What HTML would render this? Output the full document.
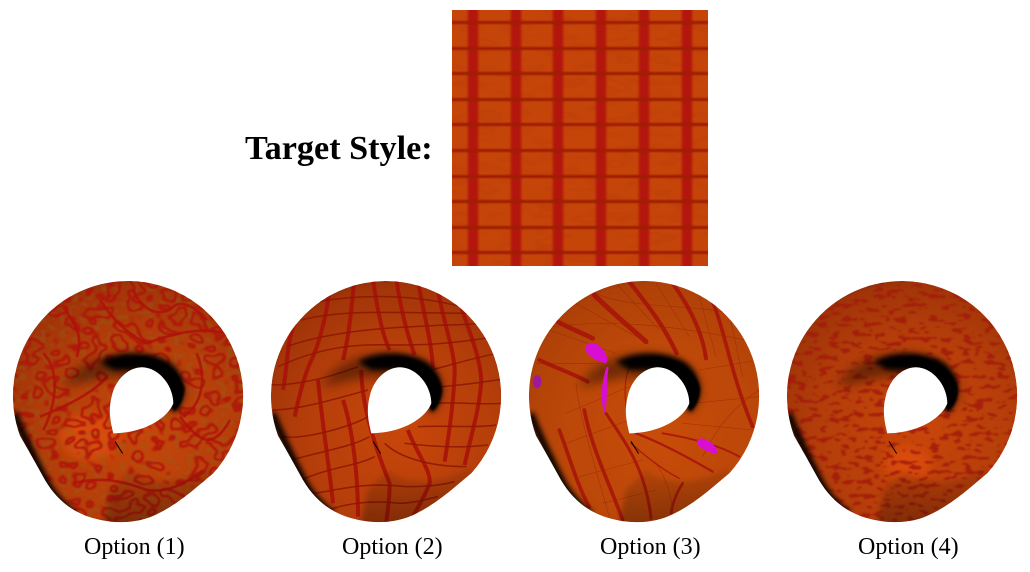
<!DOCTYPE html>
<html lang="en">
<head>
<meta charset="utf-8">
<title>Target Style Options</title>
<style>
html,body{margin:0;padding:0;background:#fff;width:1030px;height:572px;overflow:hidden}
svg{display:block}
text{font-family:"Liberation Serif",serif;fill:#000}
</style>
</head>
<body>
<svg xmlns="http://www.w3.org/2000/svg" width="1030" height="572" viewBox="0 0 1030 572">
<defs>
  <path id="sil" d="M384,33 A345,345 0 0 1 640,610 C600,642 530,710 450,742 C400,760 340,762 280,745 C220,728 170,690 135,630 C110,585 85,540 60,497 A345,345 0 0 1 384,33 Z"/>
  <clipPath id="silClip"><use href="#sil"/></clipPath>
  <clipPath id="texClip"><rect x="452" y="10" width="256" height="256"/></clipPath>
  <filter id="b1" x="-30%" y="-20%" width="160%" height="140%"><feGaussianBlur stdDeviation="1.1"/></filter>
  <filter id="b2" x="-5%" y="-100%" width="110%" height="300%"><feGaussianBlur stdDeviation="0.7"/></filter>
  <filter id="blur3" filterUnits="userSpaceOnUse" x="-50" y="-50" width="880" height="880"><feGaussianBlur stdDeviation="3"/></filter>
  <filter id="blur8" filterUnits="userSpaceOnUse" x="-50" y="-50" width="880" height="880"><feGaussianBlur stdDeviation="8"/></filter>
  <filter id="blur16" filterUnits="userSpaceOnUse" x="-50" y="-50" width="880" height="880"><feGaussianBlur stdDeviation="16"/></filter>
  <filter id="grain" filterUnits="userSpaceOnUse" x="452" y="10" width="256" height="256" color-interpolation-filters="sRGB">
    <feTurbulence type="fractalNoise" baseFrequency="0.03 0.09" numOctaves="2" seed="5"/>
    <feComponentTransfer result="m"><feFuncA type="table" tableValues="0 0 0.35 0.1 0 0.3 0"/></feComponentTransfer>
    <feFlood flood-color="#a82a04"/>
    <feComposite in2="m" operator="in"/>
  </filter>
  <filter id="veins" filterUnits="userSpaceOnUse" x="0" y="0" width="780" height="780" color-interpolation-filters="sRGB">
    <feTurbulence type="fractalNoise" baseFrequency="0.016 0.02" numOctaves="2" seed="11"/>
    <feComponentTransfer result="m"><feFuncA type="table" tableValues="0 0 0 0 0 0 0 1 0 0 0 0 0 1 0 0 0 0 0 0 0"/></feComponentTransfer>
    <feMorphology operator="dilate" radius="1.5"/>
    <feGaussianBlur stdDeviation="1.6" result="d"/>
    <feFlood flood-color="#b0120a"/>
    <feComposite in2="d" operator="in"/>
  </filter>
  <filter id="cells" filterUnits="userSpaceOnUse" x="0" y="0" width="780" height="780" color-interpolation-filters="sRGB">
    <feTurbulence type="fractalNoise" baseFrequency="0.05 0.06" numOctaves="1" seed="4"/>
    <feComponentTransfer result="m"><feFuncA type="discrete" tableValues="0 0 0 0 0 1 1 0 0"/></feComponentTransfer>
    <feGaussianBlur stdDeviation="2.5" result="d"/>
    <feFlood flood-color="#8f6420"/>
    <feComposite in2="d" operator="in"/>
  </filter>
  <filter id="spots" filterUnits="userSpaceOnUse" x="0" y="0" width="780" height="780" color-interpolation-filters="sRGB">
    <feTurbulence type="fractalNoise" baseFrequency="0.03 0.07" numOctaves="2" seed="8"/>
    <feComponentTransfer result="m"><feFuncA type="discrete" tableValues="0 0 0 0 0 0 1 1 1 1"/></feComponentTransfer>
    <feGaussianBlur stdDeviation="2.5" result="d"/>
    <feFlood flood-color="#a31c0c"/>
    <feComposite in2="d" operator="in"/>
  </filter>
  <radialGradient id="baseGrad" gradientUnits="userSpaceOnUse" cx="430" cy="480" r="480">
    <stop offset="0" stop-color="#c8460a"/><stop offset=".6" stop-color="#b43e0a"/><stop offset="1" stop-color="#9c3208"/>
  </radialGradient>
  <linearGradient id="sideGrad" gradientUnits="userSpaceOnUse" x1="0" y1="600" x2="0" y2="770">
    <stop offset="0" stop-color="#000" stop-opacity=".08"/><stop offset="1" stop-color="#000" stop-opacity=".3"/>
  </linearGradient>
  <g id="shade">
    <path d="M390,600 C420,625 460,635 500,635 C560,630 600,612 640,592 L640,800 L300,800 L330,660 Z" fill="url(#sideGrad)" filter="url(#blur8)"/>
    <path d="M42,430 C70,500 105,570 140,640 C160,675 185,705 225,735" fill="none" stroke="#000" stroke-width="22" filter="url(#blur8)"/>
    <path d="M30,340 C32,250 80,160 160,100 C240,40 330,20 420,22" fill="none" stroke="#300800" stroke-opacity=".25" stroke-width="14" filter="url(#blur8)"/>
    <path d="M190,350 C230,275 320,245 420,255 C490,262 560,310 555,380 L520,430 L430,330 L330,320 C280,330 240,340 190,350 Z" fill="#000" opacity=".42" filter="url(#blur16)"/>
    <path d="M300,275 C350,245 440,240 505,275 C555,310 565,370 525,428 L500,390 L420,300 L340,300 Z" fill="#000" filter="url(#blur8)"/>
    <path d="M400,262 C470,255 540,300 552,355 C553,385 540,410 522,424 L505,380 L440,300 Z" fill="#000" filter="url(#blur3)"/>
    <path d="M430,292 C480,295 520,350 520,400 C505,440 440,488 340,490 C330,450 325,420 335,380 C345,330 385,290 430,292 Z" fill="#fff"/>
    <path d="M345,514 L368,551" stroke="#000" stroke-width="3" fill="none"/>
  </g>
  <g id="silEdge"><use href="#sil" fill="url(#baseGrad)"/></g>
</defs>

<rect width="1030" height="572" fill="#fff"/>

<text x="245" y="159" font-size="34.2" font-weight="bold">Target Style:</text>

<g clip-path="url(#texClip)">
  <rect x="452" y="10" width="256" height="256" fill="#c6460a"/>
  <rect x="452" y="10" width="256" height="256" fill="#000" filter="url(#grain)" opacity=".5"/>
  <g fill="#b2180a" filter="url(#b1)">
    <rect x="468" y="0" width="10" height="280"/><rect x="511" y="0" width="10" height="280"/><rect x="553" y="0" width="10" height="280"/><rect x="596" y="0" width="10" height="280"/><rect x="639" y="0" width="10" height="280"/><rect x="682" y="0" width="10" height="280"/>
  </g>
  <g fill="#9e1c02" filter="url(#b2)">
    <rect x="440" y="21" width="280" height="3"/><rect x="440" y="47" width="280" height="3"/><rect x="440" y="72" width="280" height="3"/><rect x="440" y="98" width="280" height="3"/><rect x="440" y="123" width="280" height="3"/><rect x="440" y="149" width="280" height="3"/><rect x="440" y="175" width="280" height="3"/><rect x="440" y="200" width="280" height="3"/><rect x="440" y="226" width="280" height="3"/><rect x="440" y="251" width="280" height="3"/>
  </g>
</g>

<!-- Option 1 -->
<g transform="translate(0,270) scale(.3333)">
  <g clip-path="url(#silClip)">
    <use href="#silEdge"/>
    <ellipse cx="270" cy="500" rx="90" ry="70" fill="#e0500e" opacity=".8" filter="url(#blur16)"/>
    <rect x="0" y="0" width="780" height="780" fill="#000" filter="url(#cells)" opacity=".3"/>
    <rect x="0" y="0" width="780" height="780" fill="#000" filter="url(#veins)" opacity=".85"/>
    <g fill="none" stroke="#b0120a" stroke-width="8" opacity=".85">
      <path d="M300,90 C340,150 380,190 440,220 C520,190 600,170 680,190"/>
      <path d="M190,110 C230,170 250,200 230,260"/>
      <path d="M120,440 C220,400 290,360 320,320"/>
      <path d="M540,440 C600,520 640,540 690,450"/>
      <path d="M220,640 C300,620 360,630 440,660 C500,670 560,640 610,600"/>
      <path d="M130,250 C180,300 170,400 130,480"/>
      <path d="M400,60 C420,110 470,150 520,110 C540,90 590,110 620,150"/>
      <path d="M590,250 C620,320 610,400 550,440"/>
    </g>
    <use href="#shade"/>
  </g>
</g>

<!-- Option 2 -->
<g transform="translate(258,270) scale(.3333)">
  <g clip-path="url(#silClip)">
    <use href="#silEdge"/>
    <g fill="none" stroke="#a81208" stroke-width="12" opacity=".88">
      <path d="M215,60 C205,130 190,200 165,260 C140,310 125,370 110,440"/>
      <path d="M290,25 C280,110 275,190 255,270"/>
      <path d="M345,25 C355,100 370,190 395,240"/>
      <path d="M415,25 C425,100 440,170 470,255"/>
      <path d="M480,35 C495,120 520,210 525,295"/>
      <path d="M540,60 C555,150 585,230 590,295 C590,370 575,480 560,575"/>
      <path d="M605,95 C630,180 665,250 670,330 C665,420 640,490 620,585"/>
      <path d="M110,160 C85,220 90,280 75,360"/>
      <path d="M180,330 C190,440 210,560 225,700"/>
      <path d="M255,390 C285,480 300,620 300,740"/>
      <path d="M310,300 C310,400 350,530 395,640 C395,680 390,720 385,755"/>
      <path d="M450,480 C470,540 520,600 515,640 C500,680 480,710 465,740"/>
    </g>
    <g fill="none" stroke="#8e1803" stroke-width="4.5" opacity=".9">
      <path d="M180,95 C300,75 450,70 610,110"/>
      <path d="M130,150 C260,115 440,130 660,130"/>
      <path d="M85,230 C200,190 350,175 470,170 C540,165 600,165 690,160"/>
      <path d="M60,290 C170,240 270,220 400,225 C470,225 570,225 710,200"/>
      <path d="M40,345 C130,345 220,320 300,290"/>
      <path d="M45,420 C120,420 220,390 330,360"/>
      <path d="M70,500 C140,510 280,470 330,440"/>
      <path d="M100,570 C210,540 280,530 335,500"/>
      <path d="M130,630 C220,590 290,590 350,560"/>
      <path d="M170,670 C240,660 320,635 440,650 C490,650 530,650 590,635"/>
      <path d="M210,720 C270,700 340,690 420,700 C460,700 500,690 540,680"/>
      <path d="M520,300 C580,285 640,265 720,250"/>
      <path d="M550,350 C620,345 680,335 732,328"/>
      <path d="M520,400 C600,395 660,405 732,400"/>
      <path d="M480,470 C560,465 640,475 715,465"/>
      <path d="M440,520 C520,530 610,535 690,525"/>
      <path d="M380,520 C420,560 510,590 625,590"/>
    </g>
    <use href="#shade"/>
  </g>
</g>

<!-- Option 3 -->
<g transform="translate(516,270) scale(.3333)">
  <g clip-path="url(#silClip)">
    <use href="#silEdge"/>
    <rect x="0" y="0" width="780" height="780" fill="#c85a08" opacity=".35"/>
    <g fill="none" stroke="#8f1c04" stroke-width="1.6" opacity=".55">
      <path d="M100,180 L300,250 M180,100 L360,200 M300,40 L430,180 M420,40 L520,200 M550,80 L600,260 M640,130 L680,320"/>
      <path d="M60,280 L250,280 M150,430 L340,350 M150,520 L340,450 M190,620 L380,570 M260,700 L420,660 M550,300 L730,270 M530,400 L730,380 M500,460 L710,480"/>
      <path d="M220,60 C320,120 520,100 640,130 M110,170 C260,150 440,160 690,210"/>
      <path d="M180,340 C190,440 240,600 280,740 M420,580 C460,640 470,700 470,740 M560,560 C600,480 640,420 730,360"/>
    </g>
    <g fill="none" stroke="#a8160a" stroke-linecap="round" opacity=".9">
      <path d="M340,35 C390,100 440,160 482,250" stroke-width="13"/>
      <path d="M470,40 C520,110 560,190 570,265" stroke-width="12"/>
      <path d="M585,85 C625,170 640,300 710,470" stroke-width="11"/>
      <path d="M235,75 C290,130 340,170 390,215" stroke-width="15"/>
      <path d="M125,155 C160,175 190,185 230,205" stroke-width="14"/>
      <path d="M70,270 C110,290 170,310 215,335" stroke-width="12"/>
      <path d="M130,480 C160,560 185,650 220,710" stroke-width="11"/>
      <path d="M205,420 C225,530 280,640 320,750" stroke-width="11"/>
      <path d="M270,430 C330,520 390,600 405,745" stroke-width="9"/>
      <path d="M500,640 C480,670 470,700 465,730" stroke-width="8"/>
      <path d="M360,490 C440,520 530,570 590,605" stroke-width="7"/>
      <path d="M440,490 C500,500 600,520 670,560" stroke-width="6"/>
      <path d="M345,520 C390,560 440,600 490,625" stroke-width="4"/>
      <path d="M345,280 C325,320 325,370 330,410" stroke-width="3"/>
    </g>
    <use href="#shade"/>
    <g fill="#d80fd0">
      <path d="M208,232 C215,208 250,218 265,245 C280,268 276,285 262,278 C235,270 208,255 208,232 Z"/>
      <path d="M272,290 C258,330 250,390 266,432 C276,400 270,340 278,292 Z"/>
      <path d="M50,335 C52,315 68,305 76,330 C80,345 66,358 60,355 C54,352 50,345 50,335 Z" fill="#a018a0"/>
      <path d="M543,512 C555,495 590,515 604,540 C610,556 590,552 570,542 C555,535 540,525 543,512 Z"/>
    </g>
  </g>
</g>

<!-- Option 4 -->
<g transform="translate(774,270) scale(.3333)">
  <g clip-path="url(#silClip)">
    <use href="#silEdge"/>
    <ellipse cx="400" cy="580" rx="70" ry="50" fill="#e4500c" opacity=".7" filter="url(#blur16)"/>
    <rect x="0" y="0" width="780" height="780" fill="#000" filter="url(#spots)" opacity=".85"/>
    <use href="#shade"/>
  </g>
</g>

<text x="84" y="554" font-size="24">Option (1)</text>
<text x="342" y="554" font-size="24">Option (2)</text>
<text x="600" y="554" font-size="24">Option (3)</text>
<text x="858" y="554" font-size="24">Option (4)</text>
</svg>
</body>
</html>
